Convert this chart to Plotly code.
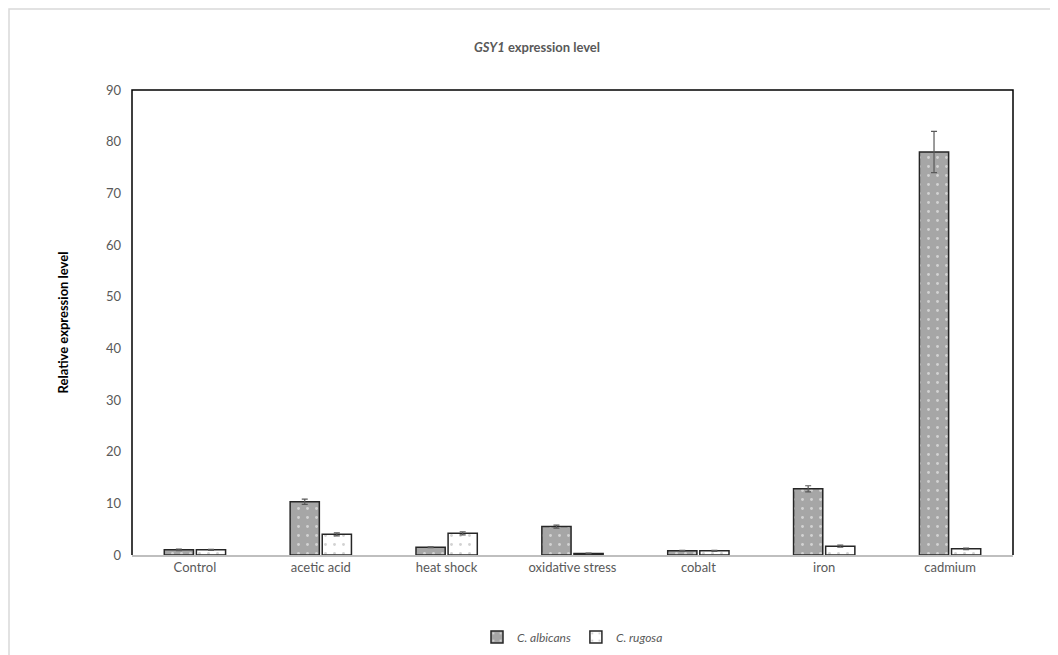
import plotly.graph_objects as go

categories = ["Control", "acetic acid", "heat shock", "oxidative stress", "cobalt", "iron", "cadmium"]
albicans = [1.0, 10.3, 1.5, 5.5, 0.8, 12.8, 78.0]
albicans_err = [0.15, 0.5, 0.1, 0.3, 0.1, 0.6, 4.0]
rugosa = [1.0, 4.0, 4.2, 0.3, 0.8, 1.7, 1.2]
rugosa_err = [0.1, 0.3, 0.3, 0.05, 0.1, 0.2, 0.15]
y_ticks = [0, 10, 20, 30, 40, 50, 60, 70, 80, 90]

FONT = "Lato, 'Open Sans', sans-serif"
W, H = 1058, 655
ML, MR, MT, MB = 124, 53, 82, 108
PW, PH = W - ML - MR, H - MT - MB

fig = go.Figure()
fig.add_trace(go.Bar(
    name="<i>C. albicans</i>", x=categories, y=albicans,
    marker=dict(color="#a6a6a6", line=dict(color="#262626", width=1.5),
                pattern=dict(shape=".", fgcolor="#ffffff", bgcolor="#a6a6a6", size=9, solidity=0.08)),
    error_y=dict(type="data", array=albicans_err, color="#595959", thickness=1.2, width=3),
))
fig.add_trace(go.Bar(
    name="<i>C. rugosa</i>", x=categories, y=rugosa,
    marker=dict(color="#ffffff", line=dict(color="#262626", width=1.5),
                pattern=dict(shape=".", fgcolor="#a6a6a6", bgcolor="#ffffff", size=9, solidity=0.08)),
    error_y=dict(type="data", array=rugosa_err, color="#595959", thickness=1.2, width=3),
))

fig.update_layout(
    width=W, height=H,
    margin=dict(l=ML, r=MR, t=MT, b=MB),
    paper_bgcolor="white", plot_bgcolor="white",
    barmode="group", bargap=0.49, bargroupgap=0.09,
    font=dict(family=FONT, color="#595959", size=13),
    title=dict(text="<i>GSY1</i> expression level", x=0.5, xanchor="center",
               y=1 - 39 / H, yanchor="middle",
               font=dict(family=FONT, size=13, color="#595959", weight="bold")),
    legend=dict(orientation="h", x=0.5, xanchor="center", y=-(629 - MT - PH) / PH, yanchor="middle",
                font=dict(family=FONT, size=12, color="#595959"), itemwidth=30),
    shapes=[dict(type="rect", xref="paper", yref="paper",
                 x0=-(ML - 1) / PW, x1=1 + (MR - 1) / PW,
                 y0=-(MB - 1) / PH, y1=1 + (MT - 1) / PH,
                 line=dict(color="#d9d9d9", width=1.5), fillcolor="rgba(0,0,0,0)", layer="below")],
)
fig.update_xaxes(showline=True, linecolor="#bfbfbf", linewidth=1.5, mirror=False, ticks="",
                 tickfont=dict(family=FONT, size=13, color="#595959"), showgrid=False)
fig.update_yaxes(range=[0, 90], tickvals=y_ticks, showgrid=False, zeroline=False,
                 showline=False, ticks="", ticklabelstandoff=10,
                 tickfont=dict(family=FONT, size=13, color="#595959"),
                 title=dict(text="<b>Relative expression level</b>", standoff=34,
                            font=dict(family=FONT, size=13, color="#000000")))
# plot-area border (left, top, right)
fig.add_shape(type="path", xref="paper", yref="paper",
              path="M 0,0 L 0,1 L 1,1 L 1,0", line=dict(color="#000000", width=1.5))

fig.write_html("out.html")
